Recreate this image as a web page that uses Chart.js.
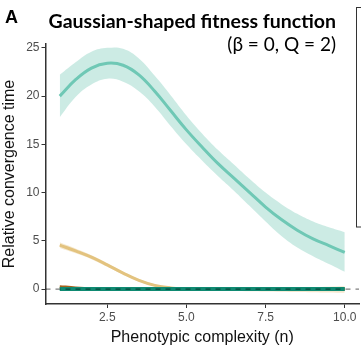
<!DOCTYPE html>
<html>
<head>
<meta charset="utf-8">
<script src="https://cdn.jsdelivr.net/npm/chart.js@4.4.1/dist/chart.umd.min.js"></script>
<style>
  html, body { margin: 0; padding: 0; background: #fff; }
  #wrap { width: 361px; height: 354px; position: relative; }
</style>
</head>
<body>
<div id="wrap"><canvas id="chart"></canvas></div>
<script>
// phenotypic complexity values (n)
var complexity = [1, 1.5, 2, 2.5, 3, 3.5, 4, 4.5, 5, 5.5, 6, 6.5, 7, 7.5, 8, 8.5, 9, 9.5, 10];

// light teal series + confidence band
var tealMean  = [20.0, 21.7, 22.9, 23.4, 23.2, 22.2, 20.5, 18.5, 16.5, 14.7, 13.0, 11.5, 10.0, 8.5, 7.2, 6.1, 5.2, 4.5, 3.8];
var tealUpper = [22.2, 23.5, 24.6, 25.0, 24.9, 23.9, 22.1, 20.1, 18.0, 16.1, 14.4, 12.9, 11.4, 10.0, 8.8, 7.8, 7.0, 6.4, 5.9];
var tealLower = [17.8, 19.9, 21.2, 21.8, 21.5, 20.5, 18.9, 16.9, 15.0, 13.3, 11.7, 10.2, 8.6, 7.0, 5.5, 4.3, 3.4, 2.6, 1.8];

// tan series + band
var tanMean  = [4.55, 3.95, 3.3, 2.5, 1.65, 0.9, 0.38, 0.12, 0.02, -0.03, -0.05, -0.05, -0.05, -0.05, -0.05, -0.05, -0.05, -0.05, -0.05];
var tanUpper = [4.85, 4.2, 3.5, 2.68, 1.8, 1.03, 0.5, 0.24, 0.14, 0.1, 0.1, 0.11, 0.13, 0.15, 0.17, 0.2, 0.22, 0.25, 0.28];
var tanLower = [4.25, 3.7, 3.1, 2.32, 1.5, 0.77, 0.26, 0.0, -0.1, -0.16, -0.2, -0.21, -0.23, -0.25, -0.27, -0.3, -0.32, -0.35, -0.38];

// brown series
var brownMean = [0.25, 0.12, 0.03, 0, 0, 0, 0, 0, 0, 0, 0, 0, 0, 0, 0, 0, 0, 0, 0];

// dark teal series
var darkMean = [0, 0, 0, 0, 0, 0, 0, 0, 0, 0, 0, 0, 0, 0, 0, 0, 0, 0, 0];

// reference line (y = 0) across the whole panel
var refX = [0.55, 10.45];
var refY = [0, 0];

var xTicks = [2.5, 5, 7.5, 10];
var yTicks = [0, 5, 10, 15, 20, 25];

function pts(xs, ys) {
    return xs.map(function(x, i) { return {x: x, y: ys[i]}; });
}

// extra text + the clipped legend frame
var decor = {
    id: 'decor',
    afterDraw: function(chart) {
        var ctx = chart.ctx;
        ctx.save();
        ctx.fillStyle = '#000';
        ctx.textBaseline = 'alphabetic';
        ctx.textAlign = 'left';
        ctx.font = 'bold 18px "Liberation Sans", Arial, sans-serif';
        ctx.fillText('A', 5, 23);
        ctx.font = 'bold 19.5px Lato, "Open Sans", sans-serif';
        ctx.textAlign = 'right';
        ctx.fillText('Gaussian-shaped fitness function', 336, 28);
        ctx.font = '19px Lato, "Open Sans", sans-serif';
        ctx.fillText('(\u03B2 = 0, Q = 2)', 336, 51);
        ctx.strokeStyle = '#333';
        ctx.lineWidth = 1;
        ctx.strokeRect(356.5, 7.5, 20, 219.5);
        ctx.restore();
    }
};

var band = function(color, data, fillTo, order) {
    return {
        data: data, borderWidth: 0, pointRadius: 0, tension: 0.4,
        borderColor: 'transparent', backgroundColor: color,
        fill: fillTo, order: order
    };
};
var line = function(color, data, width, order) {
    return {
        data: data, borderColor: color, borderWidth: width, pointRadius: 0,
        tension: 0.4, fill: false, order: order
    };
};

var datasets = [
    band('rgba(108,199,179,0.35)', pts(complexity, tealUpper), '+1', 10),
    band('transparent', pts(complexity, tealLower), false, 10),
    band('rgba(226,190,115,0.35)', pts(complexity, tanUpper), '+1', 9),
    band('transparent', pts(complexity, tanLower), false, 9),
    line('#6fc8b5', pts(complexity, tealMean), 3, 8),
    line('#e3c37f', pts(complexity, tanMean), 3, 7),
    line('#a6611a', pts(complexity, brownMean), 3, 6),
    line('#0f8a72', pts(complexity, darkMean), 4, 5),
    {
        data: pts(refX, refY), borderColor: 'rgba(0,0,0,0.5)', borderWidth: 1.3,
        borderDash: [5, 5], pointRadius: 0, fill: false, order: 1
    }
];

var tickFont = {family: '"Liberation Sans", Arial, sans-serif', size: 12};
var titleFont = {family: '"Liberation Sans", Arial, sans-serif', size: 16};

new Chart(document.getElementById('chart'), {
    type: 'line',
    data: {datasets: datasets},
    plugins: [decor],
    options: {
        responsive: true,
        maintainAspectRatio: false,
        animation: false,
        layout: {padding: {top: 44, right: 2, left: 0, bottom: 0}},
        plugins: {legend: {display: false}, tooltip: {enabled: false}},
        scales: {
            x: {
                type: 'linear', min: 0.55, max: 10.45,
                afterBuildTicks: function(s) { s.ticks = xTicks.map(function(v) { return {value: v}; }); },
                afterFit: function(s) { s.height = 50; },
                border: {display: true, color: '#333', width: 1.5},
                grid: {display: true, drawOnChartArea: false, drawTicks: true, tickLength: 4, color: '#333'},
                ticks: {color: '#4d4d4d', font: tickFont, padding: 2, maxRotation: 0,
                    callback: function(v) { return Number(v).toFixed(1); }},
                title: {display: true, text: 'Phenotypic complexity (n)', color: '#111', font: titleFont,
                    padding: {top: 0, bottom: 7}}
            },
            y: {
                type: 'linear', min: -1.55, max: 25.4,
                afterBuildTicks: function(s) { s.ticks = yTicks.map(function(v) { return {value: v}; }); },
                afterFit: function(s) { s.width = 45.5; },
                border: {display: true, color: '#333', width: 1.5},
                grid: {display: true, drawOnChartArea: false, drawTicks: true, tickLength: 4, color: '#333'},
                ticks: {color: '#4d4d4d', font: tickFont, padding: 2},
                title: {display: true, text: 'Relative convergence time', color: '#111', font: titleFont,
                    padding: {top: 0, bottom: 2}}
            }
        }
    }
});
</script>
</body>
</html>
